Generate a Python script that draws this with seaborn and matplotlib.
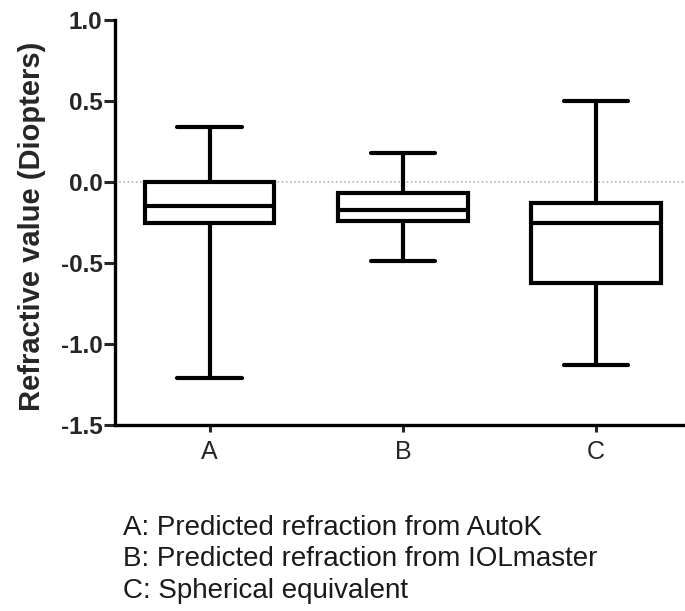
import matplotlib
matplotlib.use("Agg")
import matplotlib.pyplot as plt
import seaborn as sns
import pandas as pd

# Five-number summaries: min, Q1, median, Q3, max
groups = ["A", "B", "C"]
values_A = [-1.21, -0.25, -0.15, 0.0, 0.34]
values_B = [-0.49, -0.24, -0.17, -0.07, 0.18]
values_C = [-1.13, -0.625, -0.25, -0.13, 0.50]
y_ticks = [-1.5, -1.0, -0.5, 0.0, 0.5, 1.0]
y_label = "Refractive value (Diopters)"
notes = ["A: Predicted refraction from AutoK",
         "B: Predicted refraction from IOLmaster",
         "C: Spherical equivalent"]

df = pd.DataFrame({
    "group": [g for g, v in zip(groups, [values_A, values_B, values_C]) for _ in v],
    "value": values_A + values_B + values_C,
})

sns.set_style("white")
plt.rcParams["font.family"] = ["Liberation Sans", "DejaVu Sans"]

fig = plt.figure(figsize=(6.85, 6.11), dpi=100)
ax = fig.add_axes([115 / 685, 1 - 425 / 611, 1 - 115 / 685, (425 - 20) / 611])

sns.boxplot(data=df, x="group", y="value", order=groups, whis=(0, 100),
            width=0.67, color="white", linecolor="black", linewidth=3.0,
            showfliers=False, ax=ax)

ax.axhline(0, color="#b0b0b0", linestyle=(0, (1, 1.5)), linewidth=1.2, zorder=0)

ax.set_ylim(-1.5, 1.0)
ax.set_xlim(-0.49, 2.46)
ax.set_yticks(y_ticks)
ax.set_yticklabels([f"{t:.1f}" for t in y_ticks], fontweight="bold", fontsize=17.5)
ax.set_xlabel("")
ax.set_ylabel(y_label, fontweight="bold", fontsize=21)
ax.yaxis.set_label_coords((46 - 115) / 570, 0.49)
ax.tick_params(axis="x", labelsize=18, length=5, width=2.2, direction="out", bottom=True, pad=6)
ax.tick_params(axis="y", length=8, width=2.2, direction="out", left=True, pad=1)
for s in ["top", "right"]:
    ax.spines[s].set_visible(False)
for s in ["left", "bottom"]:
    ax.spines[s].set_linewidth(2.4)
    ax.spines[s].set_color("black")

for i, t in enumerate(notes):
    fig.text(123 / 685, 1 - (535 + 31.5 * i) / 611, t, fontsize=20,
             ha="left", va="baseline", color="#1a1a1a")

fig.savefig("out.png", dpi=100)
